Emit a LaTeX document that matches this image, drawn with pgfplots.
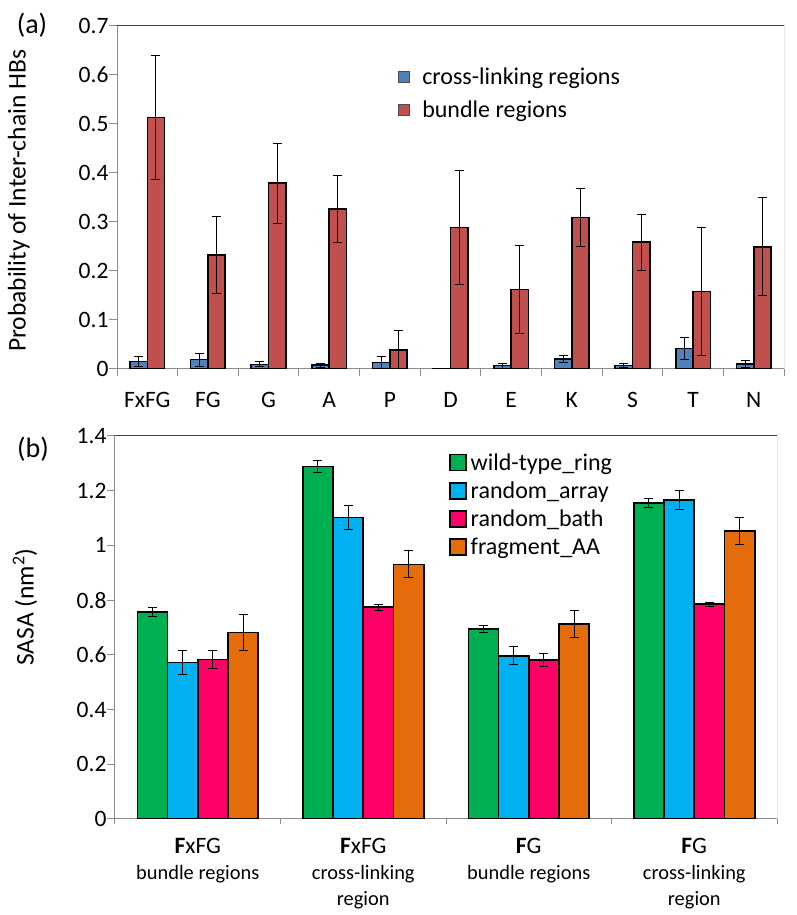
\documentclass[border=0pt]{standalone}
\usepackage{pgfplots}
\pgfplotsset{compat=1.18}
\usepackage{fontspec}
\setmainfont{Carlito}

\definecolor{xlblue}{HTML}{4F81BD}
\definecolor{xlred}{HTML}{C0504D}
\definecolor{xlgreen}{HTML}{00B050}
\definecolor{xlcyan}{HTML}{00B0F0}
\definecolor{xlpink}{HTML}{FF0066}
\definecolor{xlorange}{HTML}{E46C0A}
\definecolor{axgray}{HTML}{8C8C8C}

\newcommand{\tk}{\fontsize{23.5}{28}\selectfont}

\begin{document}
\begin{tikzpicture}
\useasboundingbox (0,0) rectangle (797pt,915pt);

\pgfplotsset{
  panel/.style={
    scale only axis, anchor=south west,
    axis x line*=bottom, axis y line*=left,
    axis line style={axgray, line width=1pt},
    tick align=outside,
    every tick/.style={axgray, line width=1pt},
    major tick length=8pt,
    tick label style={font=\tk},
    label style={font=\fontsize{25.5}{30}\selectfont},
    /pgf/number format/assume math mode=true,
    yticklabel style={/pgf/number format/fixed, xshift=3pt},
    ybar, bar width=0.285,
    legend cell align=left,
  },
  bars/.style={draw=black, line width=1.6pt, fill=#1,
    error bars/y dir=both, error bars/y explicit,
    error bars/error bar style={black, line width=1pt},
    error bars/error mark options={rotate=90, black, line width=1pt, mark size=4.5pt}},
  sqa/.style={legend image code/.code={\draw[fill=#1, draw=black!70, line width=0.6pt] (0pt,-5.5pt) rectangle (11pt,5.5pt);}},
  sqb/.style={legend image code/.code={\draw[fill=#1, draw=black, line width=1.5pt] (0pt,-8pt) rectangle (16pt,8pt);}},
}

% ---------- panel (a)
\begin{axis}[panel,
  at={(117pt,546pt)}, width=667pt, height=343pt,
  xmin=-0.5, xmax=10.5, ymin=0, ymax=0.7,
  ytick={0,0.1,0.2,0.3,0.4,0.5,0.6,0.7},
  xtick={0,1,2,3,4,5,6,7,8,9,10},
  xticklabels={FxFG,FG,G,A,P,D,E,K,S,T,N},
  major x tick style={draw=none},
  minor xtick={-0.5,0.5,...,10.5},
  minor tick length=7pt,
  xticklabel style={yshift=-12pt},
  ylabel={Probability of Inter-chain HBs},
  ylabel style={at={(rel axis cs:-0.147,0.49)}, anchor=center, rotate=0},
  legend style={draw=none, fill=none, at={(0.416,0.89)}, anchor=north west,
    font=\fontsize{24}{28}\selectfont, row sep=11pt,
    /tikz/every odd column/.append style={column sep=11pt}},
]
\addplot[bars=xlblue, bar shift=-0.1427, sqa=xlblue] coordinates {
  (0,0.015) +- (0,0.0095)
  (1,0.019) +- (0,0.013)
  (2,0.0095) +- (0,0.005)
  (3,0.008) +- (0,0.004)
  (4,0.013) +- (0,0.013)
  (5,0.0008) +- (0,0)
  (6,0.007) +- (0,0.005)
  (7,0.020) +- (0,0.007)
  (8,0.007) +- (0,0.004)
  (9,0.042) +- (0,0.022)
  (10,0.010) +- (0,0.007)
};
\addlegendentry{cross-linking regions}
\addplot[bars=xlred, bar shift=0.1427, sqa=xlred] coordinates {
  (0,0.513) +- (0,0.127)
  (1,0.2325) +- (0,0.078)
  (2,0.379) +- (0,0.082)
  (3,0.326) +- (0,0.068)
  (4,0.039) +- (0,0.040)
  (5,0.289) +- (0,0.116)
  (6,0.162) +- (0,0.090)
  (7,0.309) +- (0,0.059)
  (8,0.259) +- (0,0.057)
  (9,0.158) +- (0,0.130)
  (10,0.2495) +- (0,0.100)
};
\addlegendentry{bundle regions}
\draw[black!75, line width=1pt] (rel axis cs:0,1) -- (rel axis cs:1,1) -- (rel axis cs:1,0);
\end{axis}

% ---------- panel (b)
\begin{axis}[panel,
  at={(115pt,96pt)}, width=662pt, height=383pt,
  xmin=-0.5, xmax=3.5, ymin=0, ymax=1.4,
  ytick={0,0.2,0.4,0.6,0.8,1,1.2,1.4},
  bar width=0.1825,
  xtick={0,1,2,3},
  xticklabels={
    {{\tk\textbf{F}xFG}\\bundle regions},
    {{\tk\textbf{F}xFG}\\cross-linking\\region},
    {{\tk\textbf{F}G}\\bundle regions},
    {{\tk\textbf{F}G}\\cross-linking\\region}},
  xticklabel style={align=center, font=\fontsize{20.4}{26}\selectfont, yshift=-8pt},
  major x tick style={draw=none},
  minor xtick={-0.5,0.5,1.5,2.5,3.5},
  minor tick length=5pt,
  ylabel={SASA (nm\textsuperscript{2})},
  ylabel style={at={(rel axis cs:-0.136,0.553)}, anchor=center, rotate=0},
  legend style={draw=none, fill=none, at={(0.5,0.965)}, anchor=north west,
    font=\fontsize{24}{28}\selectfont, row sep=6pt,
    /tikz/every odd column/.append style={column sep=2pt}},
]
\addplot[bars=xlgreen, bar shift=-0.274, sqb=xlgreen] coordinates {
  (0,0.757) +- (0,0.016)
  (1,1.288) +- (0,0.021)
  (2,0.694) +- (0,0.013)
  (3,1.154) +- (0,0.016)
};
\addlegendentry{wild-type\_ring}
\addplot[bars=xlcyan, bar shift=-0.0913, sqb=xlcyan] coordinates {
  (0,0.572) +- (0,0.044)
  (1,1.102) +- (0,0.045)
  (2,0.5965) +- (0,0.033)
  (3,1.166) +- (0,0.034)
};
\addlegendentry{random\_array}
\addplot[bars=xlpink, bar shift=0.0913, sqb=xlpink] coordinates {
  (0,0.583) +- (0,0.034)
  (1,0.774) +- (0,0.011)
  (2,0.582) +- (0,0.024)
  (3,0.785) +- (0,0.0075)
};
\addlegendentry{random\_bath}
\addplot[bars=xlorange, bar shift=0.274, sqb=xlorange] coordinates {
  (0,0.682) +- (0,0.067)
  (1,0.931) +- (0,0.049)
  (2,0.712) +- (0,0.049)
  (3,1.053) +- (0,0.050)
};
\addlegendentry{fragment\_AA}
\draw[black!75, line width=1pt] (rel axis cs:0,1) -- (rel axis cs:1,1) -- (rel axis cs:1,0);
\end{axis}

\node[font=\fontsize{28}{30}\selectfont] at (32pt,890pt) {(a)};
\node[font=\fontsize{28}{30}\selectfont] at (33pt,466pt) {(b)};
\end{tikzpicture}
\end{document}
